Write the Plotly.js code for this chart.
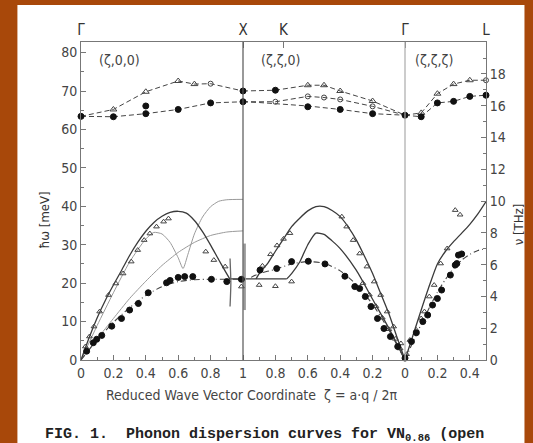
<!DOCTYPE html>
<html>
<head>
<meta charset="utf-8">
<script src="https://cdn.plot.ly/plotly-3.0.1.min.js"></script>
<style>
html,body{margin:0;padding:0;background:#a8480a;}
#chart{width:533px;height:443px;}
</style>
</head>
<body>
<div id="chart"></div>
<script>
// Path coordinate s: Γ→X (ζ,0,0): s=ζ ; X→Γ (ζ,ζ,0): s=2-ζ ; Γ→L (ζ,ζ,ζ): s=2+ζ
const tickS = [0,0.2,0.4,0.6,0.8,1,1.2,1.4,1.6,1.8,2,2.2,2.4];
const tickText = ['0','0.2','0.4','0.6','0.8','1','0.8','0.6','0.4','0.2','0','0.2','0.4'];
const pointS = [0,1,1.25,2,2.5];
const pointText = ['Γ','X','K','Γ','L'];
const thzTicks = [0,2,4,6,8,10,12,14,16,18];
const meVperTHz = 4.1357;

// optical branches (dashed lines)
const opt1UpS = [0,0.2,0.4,0.6,0.7,0.8,1.0];
const opt1UpE = [63.4,65.2,69.8,72.6,71.8,71.9,70.0];
const opt1LoS = [0,0.2,0.4,0.6,0.8,1.0];
const opt1LoE = [63.4,63.3,64.1,65.2,66.9,67.2];
const opt2TopS = [1,1.2,1.4,1.5,1.6,1.8,2];
const opt2TopE = [70.0,70.2,71.5,71.5,70.0,67.4,63.7];
const opt2MidS = [1,1.2,1.4,1.5,1.6,1.8,2];
const opt2MidE = [67.2,67.2,68.6,68.3,67.8,66.0,63.7];
const opt2LoS = [1,1.1,1.4,1.6,1.8,2];
const opt2LoE = [67.2,67.0,66.1,65.2,64.1,63.7];
const opt3UpS = [2,2.1,2.2,2.3,2.4,2.5];
const opt3UpE = [63.7,64.3,69.3,71.8,72.8,72.8];
const opt3LoS = [2,2.1,2.2,2.3,2.4,2.5];
const opt3LoE = [63.7,63.3,66.9,67.3,68.6,68.9];

// optical measured points
const optFillS = [0,0.2,0.4,0.4,0.6,0.8,1.0,1.0,1.2,1.4,1.6,1.8,2,2.1,2.2,2.3,2.4,2.5];
const optFillE = [63.4,63.3,64.1,66.1,65.2,66.9,67.2,70.0,70.2,65.9,65.2,64.1,63.7,63.3,66.9,67.3,68.6,68.9];
const optTriS = [0.2,0.4,0.6,0.7,1.4,1.5,1.6,1.8,2.1,2.2,2.3,2.4];
const optTriE = [65.2,69.8,72.6,71.8,71.5,71.5,70.0,67.4,64.3,69.3,71.8,72.8];
const optCircS = [0.8,1.0,1.2,1.4,1.5,1.6,1.8,2.5];
const optCircE = [71.9,67.2,67.2,68.6,68.3,67.8,66.0,72.8];

// acoustic theory curves
const la1S = [0,0.05,0.1,0.15,0.2,0.25,0.3,0.35,0.4,0.45,0.5,0.55,0.6,0.65,0.7,0.75,0.8,0.85,0.9,0.92];
const la1E = [0,5.8,11,15.5,19.5,23.3,27.2,30.6,33.5,35.8,37.4,38.4,38.7,38.2,36.3,33.4,29.9,26.1,22.4,21.0];
const ta1S = [0,0.1,0.2,0.3,0.4,0.5,0.6,0.7,0.8,0.9,1.0];
const ta1E = [0,5.3,9.8,13.6,16.8,19.1,20.4,20.9,21.0,21.0,21.0];
const flatS = [0.92,1.0,1.1,1.2,1.27];
const flatE = [21.1,21.1,21.1,21.1,21.1];
const greyAS = [0,0.1,0.2,0.3,0.4,0.45,0.5,0.55,0.6,0.63,0.66,0.7,0.75,0.8,0.85,0.9,1.0];
const greyAE = [0,9.0,17.5,25.5,31.5,33.2,32.8,30.6,26.6,23.8,27.5,32.8,37.2,39.9,41.3,41.7,41.8];
const greyBS = [0,0.1,0.2,0.3,0.4,0.5,0.6,0.7,0.8,0.9,1.0];
const greyBE = [0,5.5,10.8,16.0,20.5,24.6,28.0,30.6,32.4,33.3,33.6];
const la2S = [1.08,1.1,1.15,1.2,1.25,1.3,1.35,1.4,1.45,1.5,1.55,1.6,1.65,1.7,1.75,1.8,1.85,1.9,1.95,2.0];
const la2E = [21.1,22.5,25.0,28.3,31.5,34.7,36.9,38.8,39.9,39.9,38.9,37.3,34.6,31.2,27.0,22.5,17.3,12.1,6.0,0];
const mid2S = [1.27,1.3,1.35,1.4,1.45,1.5,1.55,1.6,1.7,1.8,1.9,2.0];
const mid2E = [21.1,22.5,25.5,30.0,33.0,32.7,31.0,29.0,23.3,15.8,8.3,0];
const ta2S = [1.05,1.1,1.2,1.3,1.4,1.5,1.6,1.7,1.8,1.9,2.0];
const ta2E = [21.5,22.5,23.6,25.0,25.6,25.2,23.2,19.6,14.5,7.8,0];
const la3S = [2,2.05,2.1,2.15,2.2,2.25,2.3,2.35,2.4,2.45,2.5];
const la3E = [0,6.5,13.0,19.3,25.0,28.3,30.8,33.0,35.3,38.0,41.2];
const ta3S = [2,2.05,2.1,2.15,2.2,2.25,2.3,2.35,2.4,2.45,2.5];
const ta3E = [0,4.8,9.3,13.6,17.6,21.0,23.8,26.0,27.5,28.5,29.0];
const bar1S = [0.92,0.925,0.92];
const bar1E = [13.9,20,26.4];
const bar2S = [1.01,1.01];
const bar2E = [13.0,30.3];

// acoustic measured points
const acFillS = [0.035,0.076,0.097,0.128,0.19,0.25,0.30,0.354,0.415,0.528,0.55,0.6,0.64,0.69,0.805,0.9,0.99,
  1.105,1.208,1.30,1.403,1.506,1.629,1.69,1.72,1.755,1.79,1.83,1.87,1.91,1.955,2.0,
  2.04,2.07,2.11,2.14,2.17,2.2,2.226,2.28,2.31,2.32,2.33,2.35];
const acFillE = [2.3,4.5,5.4,6.4,8.8,10.8,13.0,14.7,17.5,20.1,20.7,21.5,21.7,21.7,21.0,20.4,21.0,
  23.4,23.8,25.6,25.7,25.0,21.8,19.1,18.6,16.5,13.9,10.8,8.2,6.1,3.5,0.5,
  4.8,7.1,10.0,11.7,14.3,16.0,18.2,22.1,24.7,25.1,27.3,27.6];
const acOpenS = [0.027,0.052,0.08,0.115,0.17,0.215,0.26,0.31,0.35,0.39,0.425,0.466,0.51,0.54,0.77,0.82,0.89,
  0.99,1.10,1.2,1.3,1.12,1.17,1.21,1.25,1.29,
  1.61,1.64,1.68,1.72,1.765,1.81,1.85,1.89,1.93,1.975,1.74,1.78,1.82,1.86,1.9,1.94,1.97,
  2.01,2.03,2.07,2.10,2.12,2.15,2.18,2.22,2.26,2.31,2.34];
const acOpenE = [3.5,6.1,8.7,12.6,16.9,19.9,22.5,25.6,28.6,31.2,32.9,34.7,36.0,36.8,28.2,26.0,24.3,
  19.1,19.5,19.2,20.4,24.5,27.5,29.8,31.5,33.0,
  37.3,34.7,31.2,27.7,24.3,20.4,16.9,12.6,8.7,4.3,20.0,17.0,14.0,11.0,8.0,5.5,3.0,
  1.5,5.2,7.8,10.8,12.6,16.5,19.5,25.1,29.0,39.0,37.8];

const yMax = 82.75;
const dark = '#3a3a3a';
const grey = '#9a9a9a';
const fnt = 'DejaVu Sans Condensed, Liberation Sans Narrow, DejaVu Sans, sans-serif';

function line(x, y, color, width, dash) {
  return {x: x, y: y, type: 'scatter', mode: 'lines', hoverinfo: 'skip', showlegend: false,
    line: {color: color, width: width, dash: dash || 'solid', shape: 'spline', smoothing: 0.6}, cliponaxis: false};
}
function dline(x, y) {
  return {x: x, y: y, type: 'scatter', mode: 'lines', hoverinfo: 'skip', showlegend: false,
    line: {color: '#444', width: 1, dash: '5px,3px'}, cliponaxis: false};
}
function pts(x, y, symbol, size, color) {
  return {x: x, y: y, type: 'scatter', mode: 'markers', hoverinfo: 'skip', showlegend: false, cliponaxis: false,
    marker: {symbol: symbol, size: size, color: color, line: {color: color, width: 1}}};
}

const traces = [
  line(greyAS, greyAE, grey, 1),
  line(greyBS, greyBE, grey, 1),
  line(la1S, la1E, dark, 1.3),
  line(ta1S, ta1E, '#444', 1.1, '6px,3px,1px,3px'),
  line(flatS, flatE, dark, 1.2),
  line(la2S, la2E, dark, 1.3),
  line(mid2S, mid2E, dark, 1.3),
  line(ta2S, ta2E, '#444', 1.1, '6px,3px,1px,3px'),
  line(la3S, la3E, dark, 1.3),
  line(ta3S, ta3E, '#444', 1.1, '6px,3px,1px,3px'),
  line(bar1S, bar1E, '#666', 1.3),
  {x: bar2S, y: bar2E, type: 'scatter', mode: 'lines', hoverinfo: 'skip', showlegend: false, line: {color: '#999', width: 2.5}},
  dline(opt1UpS, opt1UpE), dline(opt1LoS, opt1LoE),
  dline(opt2TopS, opt2TopE), dline(opt2MidS, opt2MidE), dline(opt2LoS, opt2LoE),
  dline(opt3UpS, opt3UpE), dline(opt3LoS, opt3LoE),
  pts(acOpenS, acOpenE, 'triangle-up-open', 5, '#444'),
  pts(acFillS, acFillE, 'circle', 6, '#111'),
  pts(optTriS, optTriE, 'triangle-up-open', 6, '#444'),
  pts(optCircS, optCircE, 'circle-open', 5, '#444'),
  pts(optFillS, optFillE, 'circle', 6, '#111'),
  // anchors for the top and right axes
  {x: [0], y: [0], xaxis: 'x2', yaxis: 'y', type: 'scatter', mode: 'markers', marker: {opacity: 0}, hoverinfo: 'skip', showlegend: false},
  {x: [0], y: [0], xaxis: 'x', yaxis: 'y2', type: 'scatter', mode: 'markers', marker: {opacity: 0}, hoverinfo: 'skip', showlegend: false}
];

const axisCol = '#777';
const layout = {
  width: 533, height: 443,
  margin: {l: 81, r: 47, t: 42, b: 83, pad: 0},
  paper_bgcolor: '#a8480a',
  plot_bgcolor: '#ffffff',
  font: {family: fnt, size: 13, color: '#333'},
  showlegend: false,
  xaxis: {range: [0, 2.5], tickvals: tickS, ticktext: tickText, ticks: 'inside', ticklen: 5,
    tickcolor: axisCol, showline: true, linecolor: axisCol, linewidth: 1, showgrid: false, zeroline: false,
    tickfont: {size: 14, color: '#444', family: fnt},
    minor: {dtick: 0.1, tick0: 0, ticks: 'inside', ticklen: 3, tickcolor: axisCol}},
  xaxis2: {range: [0, 2.5], overlaying: 'x', side: 'top', anchor: 'y', tickvals: pointS, ticktext: pointText,
    ticks: 'inside', ticklen: 6, tickcolor: axisCol, showline: true, linecolor: axisCol, linewidth: 1,
    showgrid: false, zeroline: false, tickfont: {size: 15, color: '#333', family: fnt}},
  yaxis: {range: [0, yMax], tickvals: [0,10,20,30,40,50,60,70,80], ticks: 'inside', ticklen: 5,
    tickcolor: axisCol, showline: true, linecolor: axisCol, linewidth: 1, showgrid: false, zeroline: false,
    tickfont: {size: 14, color: '#444', family: fnt},
    minor: {dtick: 5, tick0: 0, ticks: 'inside', ticklen: 3, tickcolor: axisCol}},
  yaxis2: {range: [0, yMax / meVperTHz], overlaying: 'y', side: 'right', anchor: 'x', tickvals: thzTicks,
    ticks: 'inside', ticklen: 5, tickcolor: axisCol, showline: true, linecolor: axisCol, linewidth: 1,
    showgrid: false, zeroline: false, tickfont: {size: 14, color: '#444', family: fnt},
    minor: {dtick: 1, tick0: 0, ticks: 'inside', ticklen: 3, tickcolor: axisCol}},
  shapes: [
    {type: 'rect', xref: 'paper', yref: 'paper', x0: -0.157, x1: 1.095, y0: -0.35, y1: 1.116,
      fillcolor: '#ffffff', line: {width: 0}, layer: 'below'},
    {type: 'line', xref: 'x', yref: 'y', x0: 1, x1: 1, y0: 0, y1: yMax, line: {color: '#555', width: 1.2}},
    {type: 'line', xref: 'x', yref: 'y', x0: 2, x1: 2, y0: 0, y1: yMax, line: {color: '#aaa', width: 1.2}}
  ],
  annotations: [
    {text: '(ζ,0,0)', x: 0.237, y: 78, xref: 'x', yref: 'y', showarrow: false, font: {size: 14, color: '#444', family: fnt}},
    {text: '(ζ,ζ,0)', x: 1.235, y: 78, xref: 'x', yref: 'y', showarrow: false, font: {size: 14, color: '#444', family: fnt}},
    {text: '(ζ,ζ,ζ)', x: 2.18, y: 78, xref: 'x', yref: 'y', showarrow: false, font: {size: 14, color: '#444', family: fnt}},
    {text: 'ħω [meV]', x: -0.092, y: 0.44, xref: 'paper', yref: 'paper', xanchor: 'center', yanchor: 'middle',
      showarrow: false, textangle: -90, font: {size: 13, color: '#333', family: fnt}},
    {text: 'ν [THz]', x: 1.080, y: 0.425, xref: 'paper', yref: 'paper', xanchor: 'center', yanchor: 'middle',
      showarrow: false, textangle: -90, font: {size: 13, color: '#333', family: fnt}},
    {text: 'Reduced Wave Vector Coordinate  ζ = a·q / 2π', x: 0.422, y: -0.11, xref: 'paper', yref: 'paper',
      xanchor: 'center', yanchor: 'middle', showarrow: false, font: {size: 14, color: '#444', family: fnt}},
    {text: '<b>FIG. 1.  Phonon dispersion curves for VN<sub>0.86</sub> (open</b>', x: 0.453, y: -0.236, xref: 'paper', yref: 'paper',
      xanchor: 'center', yanchor: 'middle', showarrow: false,
      font: {size: 15, color: '#222', family: 'Liberation Mono, DejaVu Sans Mono, monospace'}}
  ]
};

Plotly.newPlot('chart', traces, layout, {staticPlot: true, displayModeBar: false});
</script>
</body>
</html>
